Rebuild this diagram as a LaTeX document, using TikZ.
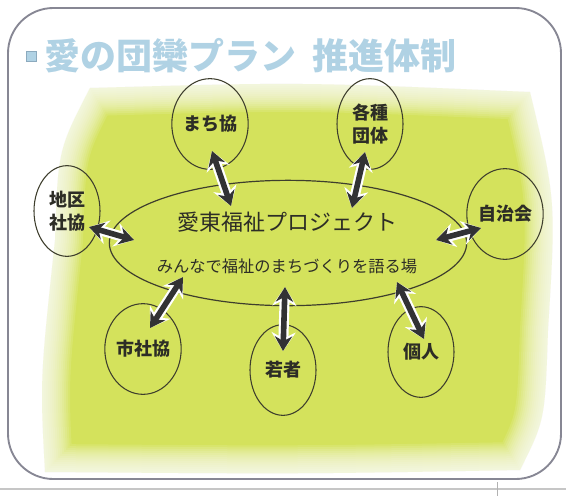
\documentclass[tikz,border=0pt]{standalone}
\usepackage{fontspec}
\newfontfamily\jp{Noto Sans CJK JP}
\usetikzlibrary{shapes.geometric,arrows.meta}
\definecolor{bggreen}{RGB}{212,226,92}
\definecolor{titleblue}{RGB}{176,210,228}
\definecolor{titleedge}{RGB}{140,170,190}
\definecolor{framegray}{RGB}{135,135,148}
\definecolor{inkdark}{RGB}{45,45,38}
\definecolor{linedark}{RGB}{62,62,45}
\definecolor{arrowdark}{RGB}{50,50,52}
\begin{document}
\begin{tikzpicture}[x=0.75pt,y=-0.75pt,
  member/.style={ellipse, draw=linedark, line width=0.8pt, inner sep=0pt,
    minimum width=49.5pt, minimum height=68pt, align=center, text=inkdark,
    font=\jp\bfseries\fontsize{13.5}{17}\selectfont},
  hubstyle/.style={ellipse, draw=linedark, line width=0.9pt, inner sep=0pt,
    minimum width=268pt, minimum height=94pt},
  link/.style={arrowdark, line width=4.2pt,
    {Stealth[length=11pt,width=13pt]}-{Stealth[length=11pt,width=13pt]},
    preaction={draw=white, line width=7.5pt,
      {Stealth[length=14pt,width=18pt]}-{Stealth[length=14pt,width=18pt]}}}]
\useasboundingbox (0,0) rectangle (566,496);
% soft green background
\def\blob{(90,88) .. controls (300,82) .. (530,92) .. controls (556,200) .. (548,330) .. controls (545,420) .. (520,470) .. controls (300,474) .. (45,472) .. controls (40,380) .. (55,240) .. controls (58,150) .. (90,88) -- cycle}
\fill[bggreen] \blob;
\foreach \w in {3,6,...,42} \draw[white, opacity=0.11, line width=\w pt, line join=round] \blob;
% frame
\draw[framegray, line width=1.4pt, rounded corners=34pt] (8,8) rectangle (561,479);
\draw[gray!45, line width=0.8pt] (0,489) -- (566,489);
\draw[gray!60, line width=0.6pt] (497,482) -- (497,496);
% title
\node[fill=titleblue, draw=titleedge, line width=0.3pt, minimum size=7.5pt, inner sep=0pt] (bullet) at (31,56) {};
\node[anchor=west, inner sep=0pt, text=titleblue, font=\jp\bfseries\fontsize{27}{30}\selectfont] (title) at (44,56) {愛の団欒プラン\hspace{12pt}推進体制};
% hub
\node[hubstyle] (hub) at (288,243) {};
\node[text=inkdark, font=\jp\fontsize{16.5}{20}\selectfont, inner sep=0pt] (hubtitle) at (287,222) {愛東福祉プロジェクト};
\node[text=inkdark, font=\jp\fontsize{12.2}{15}\selectfont, inner sep=0pt] (hubsub) at (287,266) {みんなで福祉のまちづくりを語る場};
% members
\node[member] (machi) at (210,124) {まち協};
\node[member] (dantai) at (370,124) {各種\\団体};
\node[member] (chiku) at (67,211) {地区\\社協};
\node[member] (jichi) at (505,214) {自治会};
\node[member] (shisha) at (143,349) {市社協};
\node[member] (wakamono) at (283,370) {若者};
\node[member] (kojin) at (421,352) {個人};
% arrow endpoints
\coordinate (a1) at (212,151); \coordinate (b1) at (231,206);
\coordinate (a2) at (365,152); \coordinate (b2) at (352,208);
\coordinate (a3) at (89,227);  \coordinate (b3) at (134,240);
\coordinate (a4) at (481,228); \coordinate (b4) at (436,240);
\coordinate (a5) at (150,328); \coordinate (b5) at (183,277);
\coordinate (a6) at (283,351); \coordinate (b6) at (285,287);
\coordinate (a7) at (424,339); \coordinate (b7) at (397,282);
\foreach \i in {1,...,7} \draw[link] (a\i) -- (b\i);
\end{tikzpicture}
\end{document}
